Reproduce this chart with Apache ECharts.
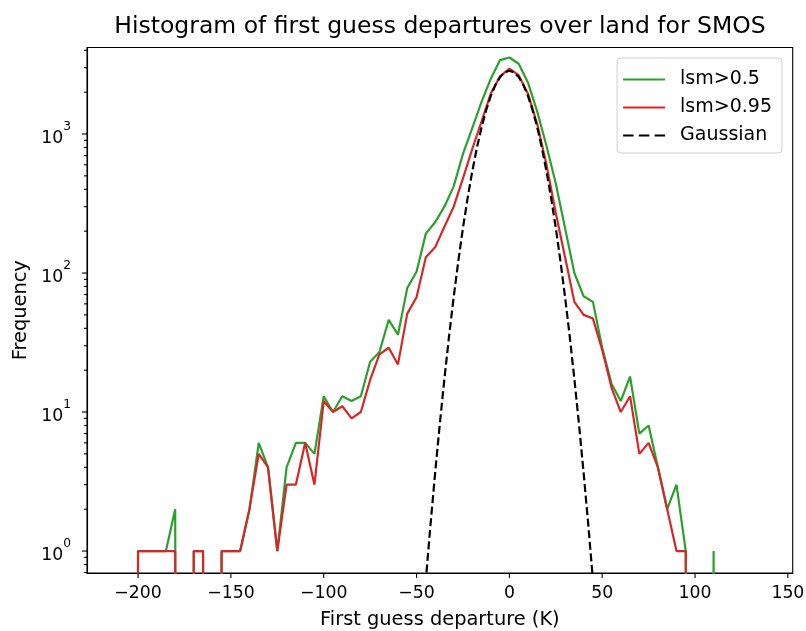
<!DOCTYPE html>
<html><head><meta charset="utf-8">
<script src="https://cdn.jsdelivr.net/npm/echarts@6/dist/echarts.min.js"></script>
<style>html,body{margin:0;padding:0;background:#fff}#c{width:806px;height:631px}</style>
</head><body><div id="c"></div>
<script>
const FONT = 'DejaVu Sans';
const titleText = 'Histogram of first guess departures over land for SMOS';
const xAxisTitle = 'First guess departure (K)';
const yAxisTitle = 'Frequency';
const seriesNames = ['lsm>0.5', 'lsm>0.95', 'Gaussian'];

// histogram bin centres (K)
const binCenters = [-210,-205,-200,-195,-190,-185,-180,-175,-170,-165,-160,-155,-150,-145,-140,-135,-130,-125,-120,-115,
  -110,-105,-100,-95,-90,-85,-80,-75,-70,-65,-60,-55,-50,-45,-40,-35,-30,-25,-20,-15,
  -10,-5,0,5,10,15,20,25,30,35,40,45,50,55,60,65,70,75,80,85,
  90,95,100,105,110,115,120,125,130,135];
// lsm>0.5 counts
const greenCounts = [0,0,1,1,1,1,2,0,1,1,0,1,1,1,2,6,4,1,4,6,
  6,5,13,10,13,12,13,23,27,46,36,78,102,192,232,300,420,720,1100,1700,
  2500,3400,3550,3200,2350,1450,820,440,210,100,68,62,29,16,12,18,7,8,4,2,
  3,1,0,0,1,0,0,0,0,0];
// lsm>0.95 counts
const redCounts = [0,0,1,1,1,1,1,0,1,1,0,1,1,1,2,5,4,1,3,3,
  6,3,12,10,11,9,10,17,26,29,22,51,67,130,153,215,300,480,780,1230,
  1960,2600,2950,2650,1950,1180,600,270,130,62,50,47,28,15,10,13,5,6,4,2,
  1,1,0,0,0,0,0,0,0,0];
// Gaussian reference curve
const gaussX = [-50,-47.5,-45,-42.5,-40,-37.5,-35,-32.5,-30,-27.5,-25,-22.5,-20,-17.5,-15,-12.5,-10,-7.5,-5,-2.5,
  0,2.5,5,7.5,10,12.5,15,17.5,20,22.5,25,27.5,30,32.5,35,37.5,40,42.5,45,47.5,50];
const gaussY = [0.0853,0.235,0.617,1.54,3.63,8.14,17.3,35.0,67.0,122,211,346,538,795,1116,1486,1879,2255,2568,2777,
  2850,2777,2568,2255,1879,1486,1116,795,538,346,211,122,67.0,35.0,17.3,8.14,3.63,1.54,0.617,0.235,0.0853];

const xTickValues = [-200,-150,-100,-50,0,50,100,150];
const yMajorTicks = [1,10,100,1000];
const yMinorTicks = [0.7,0.8,0.9,2,3,4,5,6,7,8,9,20,30,40,50,60,70,80,90,200,300,400,500,600,700,800,900,2000,3000,4000];

const X_MIN = -227.5, X_MAX = 152.6;
const Y_MIN = 0.695, Y_MAX = 4190;

// zero counts are clipped far below the axis, like a log plot does
const clipZero = v => (v > 0 ? v : 1e-30);
const pairs = (xs, ys) => xs.map((x, i) => [x, clipZero(ys[i])]);

const chart = echarts.init(document.getElementById('c'), null, {renderer: 'canvas'});

const tickStyle = {stroke: '#000', lineWidth: 1.1};
const solidIcon = 'path://M0,0h40v2h-40z';
const dashedIcon = 'path://M0,0h10v2h-10z M15,0h10v2h-10z M30,0h10v2h-10z';

const option = {
  animation: false,
  backgroundColor: '#fff',
  textStyle: {fontFamily: FONT},
  grid: {left: 87, right: 13.3, top: 47.5, bottom: 58, show: true, borderColor: '#000', borderWidth: 1.1,
         containLabel: false, outerBoundsMode: 'none'},
  graphic: [{
    type: 'text', silent: true,
    style: {text: titleText, x: 440, y: 27, textAlign: 'center', textVerticalAlign: 'middle',
            fontFamily: FONT, fontSize: 23.5, fill: '#000'}
  }],
  legend: {
    data: [
      {name: seriesNames[0], icon: solidIcon},
      {name: seriesNames[1], icon: solidIcon},
      {name: seriesNames[2], icon: dashedIcon}
    ],
    orient: 'vertical', right: 24, top: 58, symbolKeepAspect: false,
    padding: [12, 10, 8, 6], itemGap: 9, itemWidth: 42, itemHeight: 2.2,
    backgroundColor: '#fff', borderColor: '#cfcfcf', borderWidth: 1, borderRadius: 4,
    textStyle: {fontFamily: FONT, fontSize: 19, color: '#000', padding: [0, 0, 0, 10]},
    selectedMode: false
  },
  xAxis: {
    type: 'value', min: X_MIN, max: X_MAX, splitNumber: 8,
    name: xAxisTitle, nameLocation: 'middle', nameGap: 37,
    nameTextStyle: {fontFamily: FONT, fontSize: 19.4, color: '#000'},
    axisLine: {show: true, onZero: false, lineStyle: {color: '#000', width: 1.1}},
    axisTick: {show: false}, splitLine: {show: false},
    axisLabel: {
      margin: 12, fontFamily: FONT, fontSize: 17.3, color: '#000',
      showMinLabel: false, showMaxLabel: false,
      formatter: v => (xTickValues.indexOf(v) < 0 ? '' : (v < 0 ? '\u2212' + (-v) : String(v)))
    }
  },
  yAxis: {
    type: 'log', logBase: 10, min: Y_MIN, max: Y_MAX,
    name: yAxisTitle, nameLocation: 'middle', nameGap: 57, nameRotate: 90,
    nameTextStyle: {fontFamily: FONT, fontSize: 19.4, color: '#000'},
    axisLine: {show: true, onZero: false, lineStyle: {color: '#000', width: 1.1}},
    axisTick: {show: false}, splitLine: {show: false},
    axisLabel: {
      margin: 16, color: '#000', showMinLabel: false, showMaxLabel: false,
      formatter: v => {
        const e = Math.round(Math.log10(v));
        if (yMajorTicks.indexOf(Math.pow(10, e)) < 0 || Math.abs(v / Math.pow(10, e) - 1) > 1e-6) return '';
        return '{b|10}{s|' + e + '}';
      },
      rich: {
        b: {fontFamily: FONT, fontSize: 17.3, color: '#000', lineHeight: 26, verticalAlign: 'bottom'},
        s: {fontFamily: FONT, fontSize: 12.2, color: '#000', lineHeight: 12, verticalAlign: 'top'}
      }
    }
  },
  series: [
    {name: seriesNames[0], type: 'line', data: pairs(binCenters, greenCounts), symbol: 'none', showSymbol: false,
     clip: true, silent: true, color: '#2ca02c', lineStyle: {color: '#2ca02c', width: 2.2}},
    {name: seriesNames[1], type: 'line', data: pairs(binCenters, redCounts), symbol: 'none', showSymbol: false,
     clip: true, silent: true, color: '#d62728', lineStyle: {color: '#d62728', width: 2.2}},
    {name: seriesNames[2], type: 'line', data: pairs(gaussX, gaussY), symbol: 'none', showSymbol: false,
     clip: true, silent: true, color: '#000', lineStyle: {color: '#000', width: 2.2, type: [8, 3.6]}},
    {type: 'custom', name: 'xticks', silent: true, clip: false, z: 5,
     data: xTickValues.map(v => [v, Y_MIN]),
     renderItem: (params, api) => {
       const p = api.coord([api.value(0), Y_MIN]);
       return {type: 'line', shape: {x1: p[0], y1: p[1], x2: p[0], y2: p[1] + 5}, style: tickStyle};
     }},
    {type: 'custom', name: 'yticks', silent: true, clip: false, z: 5,
     data: yMajorTicks.map(v => [X_MIN, v, 5]).concat(yMinorTicks.map(v => [X_MIN, v, 3])),
     renderItem: (params, api) => {
       const p = api.coord([X_MIN, api.value(1)]);
       const len = api.value(2);
       return {type: 'line', shape: {x1: p[0] - len, y1: p[1], x2: p[0], y2: p[1]}, style: tickStyle};
     }}
  ]
};
chart.setOption(option);
</script>
</body></html>
